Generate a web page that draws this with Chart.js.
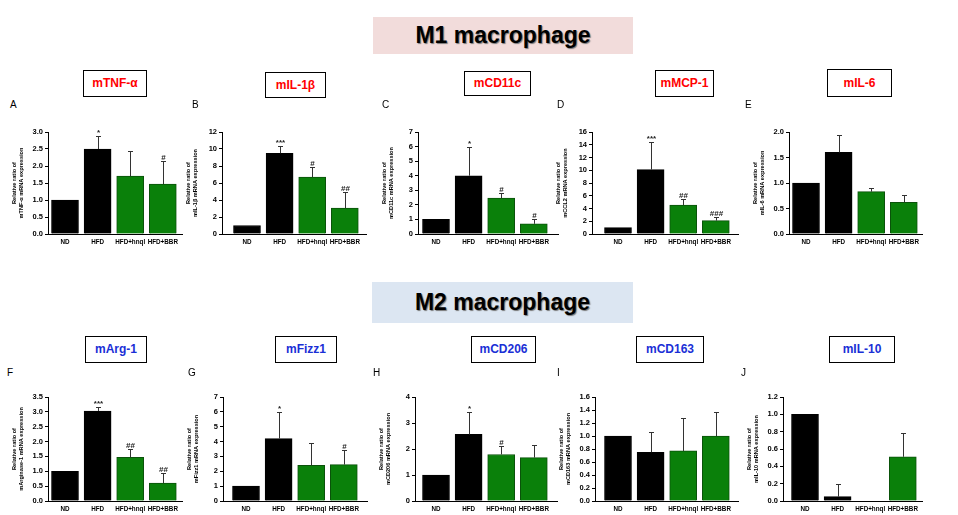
<!DOCTYPE html>
<html>
<head>
<meta charset="utf-8">
<script src="https://cdn.jsdelivr.net/npm/chart.js@4.4.1/dist/chart.umd.min.js"></script>
<style>
  body { margin: 0; width: 958px; height: 515px; background: #fff; position: relative; overflow: hidden;
         font-family: "Liberation Sans", Arial, sans-serif; }
  .hdr { position: absolute; font-weight: bold; font-size: 23px; text-align: center; color: #000;
         text-shadow: 1px 1px 1px #777; }
  .gene { position: absolute; border: 1px solid #000; background: #fff; font-size: 12px; font-weight: bold;
          text-align: center; box-sizing: border-box; }
  .letter { position: absolute; font-size: 10px; line-height: 10px; color: #000; }
  canvas { position: absolute; }
</style>
</head>
<body>
<div class="hdr" style="left:373px;top:17px;width:260px;height:37px;line-height:37px;background:#f2dcdb;">M1 macrophage</div>
<div class="hdr" style="left:372px;top:282px;width:261px;height:41px;line-height:41px;background:#dce6f2;">M2 macrophage</div>

<script>
// group names on the x axis
const categories = ["ND", "HFD", "HFD+hnql", "HFD+BBR"];

// M1 genes: bar means, top of error bar, significance marks, [axis max, step, decimals]
const tnfMean = [1.0, 2.5, 1.7, 1.47];
const tnfErr  = [1.0, 2.87, 2.45, 2.15];
const tnfSig  = ["", "*", "", "#"];
const tnfAxis = [3.0, 0.5, 1];

const il1bMean = [1.0, 9.5, 6.7, 3.05];
const il1bErr  = [1.0, 10.35, 7.9, 4.95];
const il1bSig  = ["", "***", "#", "##"];
const il1bAxis = [12, 2, 0];

const cd11cMean = [1.0, 4.0, 2.47, 0.7];
const cd11cErr  = [1.0, 6.0, 2.8, 1.05];
const cd11cSig  = ["", "*", "#", "#"];
const cd11cAxis = [7, 1, 0];

const mcp1Mean = [1.0, 10.1, 4.55, 2.1];
const mcp1Err  = [1.0, 14.45, 5.5, 2.65];
const mcp1Sig  = ["", "***", "##", "###"];
const mcp1Axis = [16, 2, 0];

const il6Mean = [1.0, 1.6, 0.83, 0.62];
const il6Err  = [1.0, 1.94, 0.91, 0.77];
const il6Sig  = ["", "", "", ""];
const il6Axis = [2.0, 0.5, 1];

// M2 genes
const arg1Mean = [1.0, 3.03, 1.47, 0.6];
const arg1Err  = [1.0, 3.17, 1.75, 0.93];
const arg1Sig  = ["", "***", "##", "##"];
const arg1Axis = [3.5, 0.5, 1];

const fizz1Mean = [1.0, 4.2, 2.4, 2.45];
const fizz1Err  = [1.0, 6.0, 3.9, 3.4];
const fizz1Sig  = ["", "*", "", "#"];
const fizz1Axis = [7, 1, 0];

const cd206Mean = [1.0, 2.56, 1.79, 1.67];
const cd206Err  = [1.0, 3.43, 2.1, 2.15];
const cd206Sig  = ["", "*", "#", ""];
const cd206Axis = [4, 1, 0];

const cd163Mean = [1.0, 0.75, 0.77, 1.0];
const cd163Err  = [1.0, 1.06, 1.28, 1.37];
const cd163Sig  = ["", "", "", ""];
const cd163Axis = [1.6, 0.2, 1];

const il10Mean = [1.0, 0.05, 0.0, 0.51];
const il10Err  = [1.0, 0.2, 0.0, 0.78];
const il10Sig  = ["", "", "", ""];
const il10Axis = [1.2, 0.2, 1];

const RED = "#f00";
const BLUE = "#1a2fd6";
const GREEN = "#0a800a";
const rows = [{ top: 132, bottom: 234, letterY: 100 }, { top: 397, bottom: 501, letterY: 368 }];

const panels = [
  { letter: "A", lx: 10,  gene: "mTNF-α",  col: RED,  yt: "mTNF-α mRNA expression",   mean: tnfMean,   err: tnfErr,   sig: tnfSig,   axis: tnfAxis,   row: 0, axisX: 48,  c1: 65,  end: 182, box: [83, 70, 64, 27] },
  { letter: "B", lx: 192, gene: "mIL-1β",  col: RED,  yt: "mIL-1β mRNA expression",   mean: il1bMean,  err: il1bErr,  sig: il1bSig,  axis: il1bAxis,  row: 0, axisX: 222, c1: 247, end: 366, box: [265, 72, 61, 26] },
  { letter: "C", lx: 382, gene: "mCD11c",  col: RED,  yt: "mCD11c mRNA expression",   mean: cd11cMean, err: cd11cErr, sig: cd11cSig, axis: cd11cAxis, row: 0, axisX: 418, c1: 436, end: 558, box: [464, 71, 67, 25] },
  { letter: "D", lx: 557, gene: "mMCP-1",  col: RED,  yt: "mCCL2 mRNA expression",    mean: mcp1Mean,  err: mcp1Err,  sig: mcp1Sig,  axis: mcp1Axis,  row: 0, axisX: 592, c1: 618, end: 738, box: [655, 70, 59, 27] },
  { letter: "E", lx: 745, gene: "mIL-6",   col: RED,  yt: "mIL-6 mRNA expression",    mean: il6Mean,   err: il6Err,   sig: il6Sig,   axis: il6Axis,   row: 0, axisX: 789, c1: 806, end: 922, box: [827, 69, 65, 28] },
  { letter: "F", lx: 7,   gene: "mArg-1",  col: BLUE, yt: "mArginase-1 mRNA expression", mean: arg1Mean, err: arg1Err, sig: arg1Sig, axis: arg1Axis, row: 1, axisX: 48,  c1: 65,  end: 182, box: [85, 336, 62, 27] },
  { letter: "G", lx: 188, gene: "mFizz1",  col: BLUE, yt: "mFizz1 mRNA expression",   mean: fizz1Mean, err: fizz1Err, sig: fizz1Sig, axis: fizz1Axis, row: 1, axisX: 223, c1: 246, end: 367, box: [275, 336, 62, 27] },
  { letter: "H", lx: 373, gene: "mCD206",  col: BLUE, yt: "mCD206 mRNA expression",   mean: cd206Mean, err: cd206Err, sig: cd206Sig, axis: cd206Axis, row: 1, axisX: 415, c1: 436, end: 557, box: [471, 336, 65, 27] },
  { letter: "I", lx: 557, gene: "mCD163",  col: BLUE, yt: "mCD163 mRNA expression",   mean: cd163Mean, err: cd163Err, sig: cd163Sig, axis: cd163Axis, row: 1, axisX: 595, c1: 618, end: 738, box: [636, 336, 68, 27] },
  { letter: "J", lx: 741, gene: "mIL-10",  col: BLUE, yt: "mIL-10 mRNA expression",   mean: il10Mean,  err: il10Err,  sig: il10Sig,  axis: il10Axis,  row: 1, axisX: 783, c1: 805, end: 922, box: [829, 336, 66, 27] }
];

Chart.defaults.font.family = '"Liberation Sans", Arial, sans-serif';
Chart.defaults.font.size = 7;
Chart.defaults.font.weight = "bold";
Chart.defaults.color = "#000";

// error whiskers (upper only) + significance marks
const errorBars = {
  id: "errorBars",
  afterDatasetsDraw(chart, args, opts) {
    const ctx = chart.ctx;
    const meta = chart.getDatasetMeta(0);
    const ys = chart.scales.y;
    ctx.save();
    ctx.strokeStyle = "#333";
    ctx.fillStyle = "#222";
    ctx.lineWidth = 1;
    ctx.font = 'bold 8px "Liberation Sans", Arial, sans-serif';
    ctx.textAlign = "center";
    ctx.textBaseline = "bottom";
    meta.data.forEach((bar, i) => {
      const px = Math.round(bar.x) + 0.5;
      let markY = bar.y;
      if (opts.tops[i] > opts.means[i]) {
        const py = Math.round(ys.getPixelForValue(opts.tops[i])) + 0.5;
        ctx.beginPath();
        ctx.moveTo(px, bar.y);
        ctx.lineTo(px, py);
        ctx.moveTo(px - 2.5, py);
        ctx.lineTo(px + 2.5, py);
        ctx.stroke();
        markY = py;
      }
      if (opts.marks[i]) ctx.fillText(opts.marks[i], px, markY);
    });
    ctx.restore();
  }
};

const SP = 32.6;
const YW = 39, PADT = 12, PADR = 20, XH = 16;

panels.forEach(p => {
  const r = rows[p.row];

  const box = document.createElement("div");
  box.className = "gene";
  box.textContent = p.gene;
  box.style.cssText = `left:${p.box[0]}px;top:${p.box[1]}px;width:${p.box[2]}px;height:${p.box[3]}px;line-height:${p.box[3] - 2}px;color:${p.col};`;
  document.body.appendChild(box);

  const lt = document.createElement("div");
  lt.className = "letter";
  lt.textContent = p.letter;
  lt.style.left = p.lx + "px";
  lt.style.top = r.letterY + "px";
  document.body.appendChild(lt);

  const cv = document.createElement("canvas");
  const left = p.axisX - YW;
  const top = r.top - PADT;
  const w = p.end + PADR - left;
  const h = r.bottom + XH - top;
  cv.width = w; cv.height = h;
  cv.style.left = left + "px";
  cv.style.top = top + "px";
  cv.style.width = w + "px";
  cv.style.height = h + "px";
  document.body.appendChild(cv);

  const xMin = 1 - (p.c1 - p.axisX) / SP;
  const xMax = 4 + (p.end - p.c1 - 3 * SP) / SP;
  const dec = p.axis[2];

  new Chart(cv.getContext("2d"), {
    type: "bar",
    data: {
      datasets: [{
        data: p.mean.map((v, i) => ({ x: i + 1, y: v })),
        backgroundColor: ["#000", "#000", GREEN, GREEN],
        borderColor: ["#000", "#000", "#0b520b", "#0b520b"],
        borderWidth: 1,
        barThickness: 27
      }]
    },
    options: {
      responsive: false,
      animation: false,
      layout: { padding: { top: PADT, right: PADR, left: 0, bottom: 0 } },
      plugins: {
        legend: { display: false },
        tooltip: { enabled: false },
        errorBars: { tops: p.err, means: p.mean, marks: p.sig }
      },
      scales: {
        x: {
          type: "linear",
          offset: false,
          min: xMin,
          max: xMax,
          afterFit: s => { s.height = XH; },
          afterBuildTicks: s => { s.ticks = [1, 2, 3, 4].map(v => ({ value: v })); },
          grid: { display: false, drawTicks: false, offset: false },
          border: { color: "#000", width: 1 },
          ticks: { autoSkip: false, maxRotation: 0, padding: 4, font: { size: 6.3 },
                   callback: v => categories[v - 1] }
        },
        y: {
          min: 0,
          max: p.axis[0],
          afterFit: s => { s.width = YW; },
          ticks: { stepSize: p.axis[1], padding: 2, font: { size: 7.5 },
                   callback: v => Number(v).toFixed(dec) },
          grid: { drawOnChartArea: false, tickLength: 3, color: "#000" },
          border: { color: "#000", width: 1 },
          title: {
            display: true,
            text: ["Relative ratio of", p.yt],
            padding: { top: 2, bottom: 0 },
            font: { size: 5.6, weight: "bold", lineHeight: 1.25 }
          }
        }
      }
    },
    plugins: [errorBars]
  });
});
</script>
</body>
</html>
